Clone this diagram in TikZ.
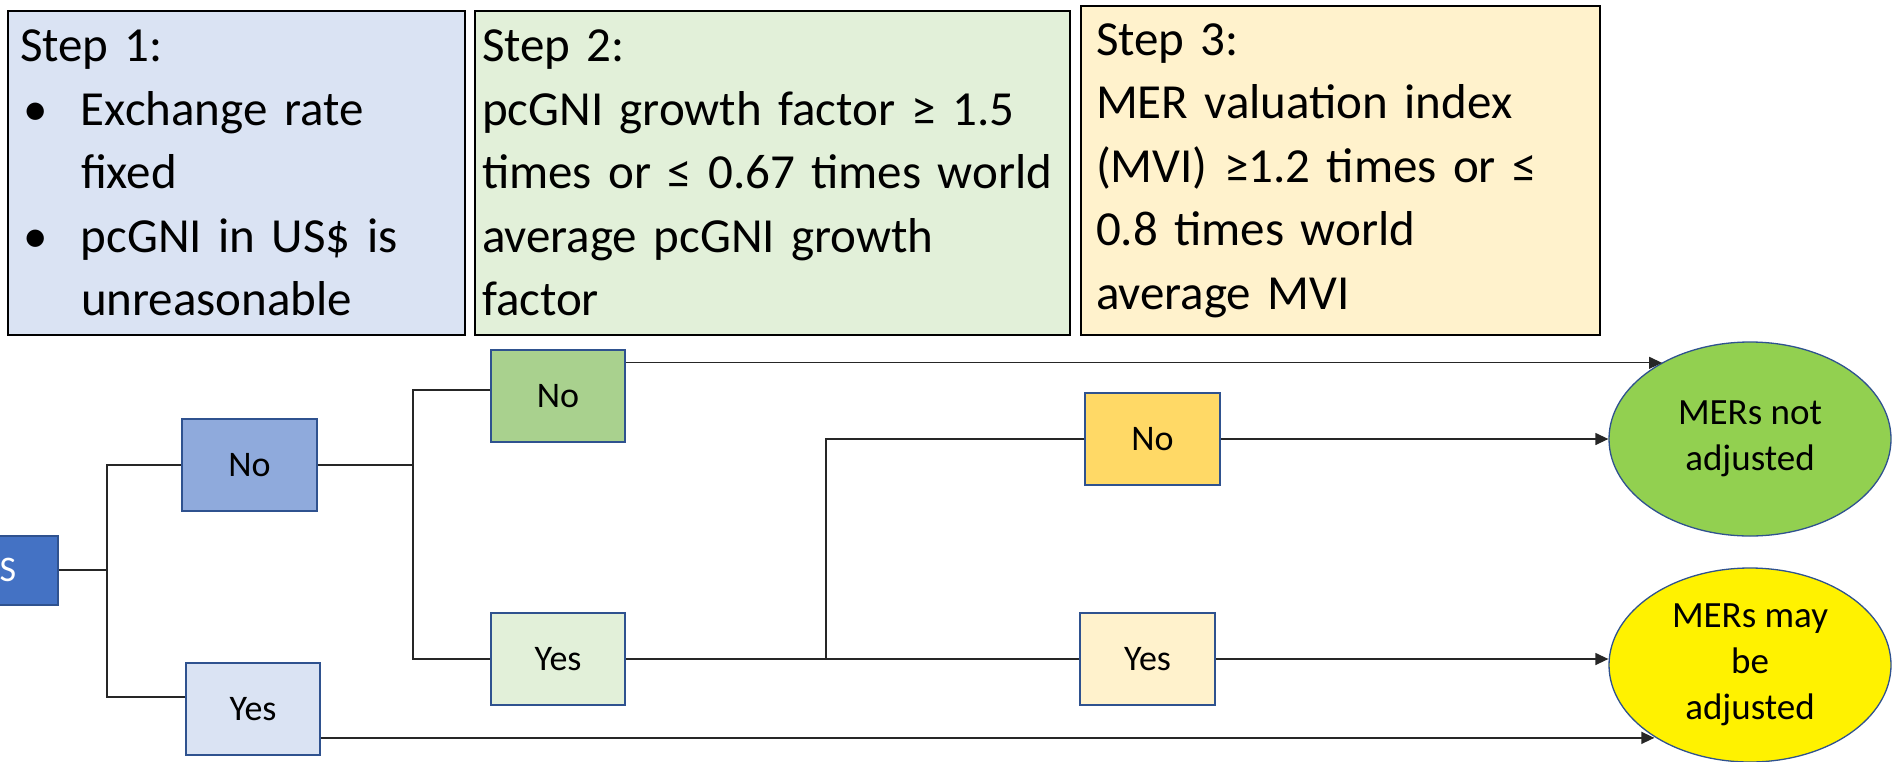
\documentclass[tikz,border=0pt]{standalone}
\usepackage{fontspec}
\setmainfont{Carlito}
\usepackage{tikz}
\usetikzlibrary{calc}
\usetikzlibrary{arrows.meta}
\usetikzlibrary{shapes.geometric}

\definecolor{stepone}{HTML}{DAE3F3}
\definecolor{steptwo}{HTML}{E2F0D9}
\definecolor{stepthree}{HTML}{FFF2CC}
\definecolor{startblue}{HTML}{4472C4}
\definecolor{noblue}{HTML}{8FAADC}
\definecolor{nogreen}{HTML}{A9D18E}
\definecolor{noyellow}{HTML}{FFD966}
\definecolor{edgeblue}{HTML}{2F528F}
\definecolor{okgreen}{HTML}{92D050}

\tikzset{
    stepbox/.style={draw=black, line width=2pt, anchor=north west, align=left,
        inner ysep=0pt, font=\fontsize{49}{63.5}\selectfont},
    choice/.style={draw=edgeblue, line width=2pt, minimum width=134pt,
        minimum height=92pt, inner sep=0pt, font=\fontsize{36}{44}\selectfont},
    outcome/.style={ellipse, draw=edgeblue, line width=1.3pt, minimum width=282pt,
        minimum height=194pt, inner sep=0pt, align=center,
        font=\fontsize{37}{46}\selectfont},
    link/.style={line width=1.3pt, draw=black!85},
    arr/.style={link, -{Triangle[length=13pt, width=12pt]}}
}

\begin{document}
\begin{tikzpicture}[x=1pt, y=-1pt]
    \useasboundingbox (0,0) rectangle (1896,761);

    \node[stepbox, fill=stepone, minimum width=457pt, minimum height=324pt,
        text width=433pt, inner xsep=12pt] (step1) at (7,10)
        {Step 1:\\
        \makebox[61pt][l]{\hspace{3pt}•}Exchange rate\\
        \hspace*{61pt}fixed\\
        \makebox[61pt][l]{\hspace{3pt}•}pcGNI in US\$ is\\
        \hspace*{61pt}unreasonable};
    \node[stepbox, fill=steptwo, minimum width=595pt, minimum height=324pt,
        text width=581pt, inner xsep=7pt] (step2) at (474,10)
        {Step 2:\\
        pcGNI growth factor ≥ 1.5\\
        times or ≤ 0.67 times world\\
        average pcGNI growth\\
        factor};
    \node[stepbox, fill=stepthree, minimum width=519pt, minimum height=329pt,
        text width=489pt, inner xsep=15pt] (step3) at (1080,5)
        {Step 3:\\
        MER valuation index\\
        (MVI) ≥1.2 times or ≤\\
        0.8 times world\\
        average MVI};

    \node[choice, fill=startblue, text=white, minimum width=100pt,
        minimum height=69pt] (S) at (8,570) {S};
    \node[choice, fill=noblue, minimum width=135pt] (No1) at (249.5,465) {No};
    \node[choice, fill=stepone] (Yes1) at (253,709) {Yes};
    \node[choice, fill=nogreen] (No2) at (558,396) {No};
    \node[choice, fill=steptwo] (Yes2) at (558,659) {Yes};
    \node[choice, fill=noyellow, minimum width=135pt] (No3) at (1152.5,439) {No};
    \node[choice, fill=stepthree, minimum width=135pt] (Yes3) at (1147.5,659) {Yes};

    \node[outcome, fill=okgreen] (MERno) at (1750,439) {MERs not\\adjusted};
    \node[outcome, fill=yellow] (MERyes) at (1750,665) {MERs may\\be\\adjusted};

    \draw[link] (S.east) -- ++(48,0) coordinate (j1);
    \draw[link] (j1) |- (No1.west);
    \draw[link] (j1) |- (Yes1.170);
    \draw[link] (No1.east) -- ++(95,0) coordinate (j2);
    \draw[link] (j2) |- (No2.175);
    \draw[link] (j2) |- (Yes2.west);
    \draw[link] (Yes2.east) -- (Yes3.west);
    \coordinate (j3) at ($(Yes2.east)+(200,0)$);
    \draw[link] (j3) |- (No3.west);
    \draw[arr] (No2.26) -- (No2.26 -| MERno.139);
    \draw[arr] (No3.east) -- (MERno.west);
    \draw[arr] (Yes3.east) -- (Yes3.east -| MERyes.west);
    \draw[arr] (Yes1.-23) -- (Yes1.-23 -| MERyes.217);
\end{tikzpicture}
\end{document}
